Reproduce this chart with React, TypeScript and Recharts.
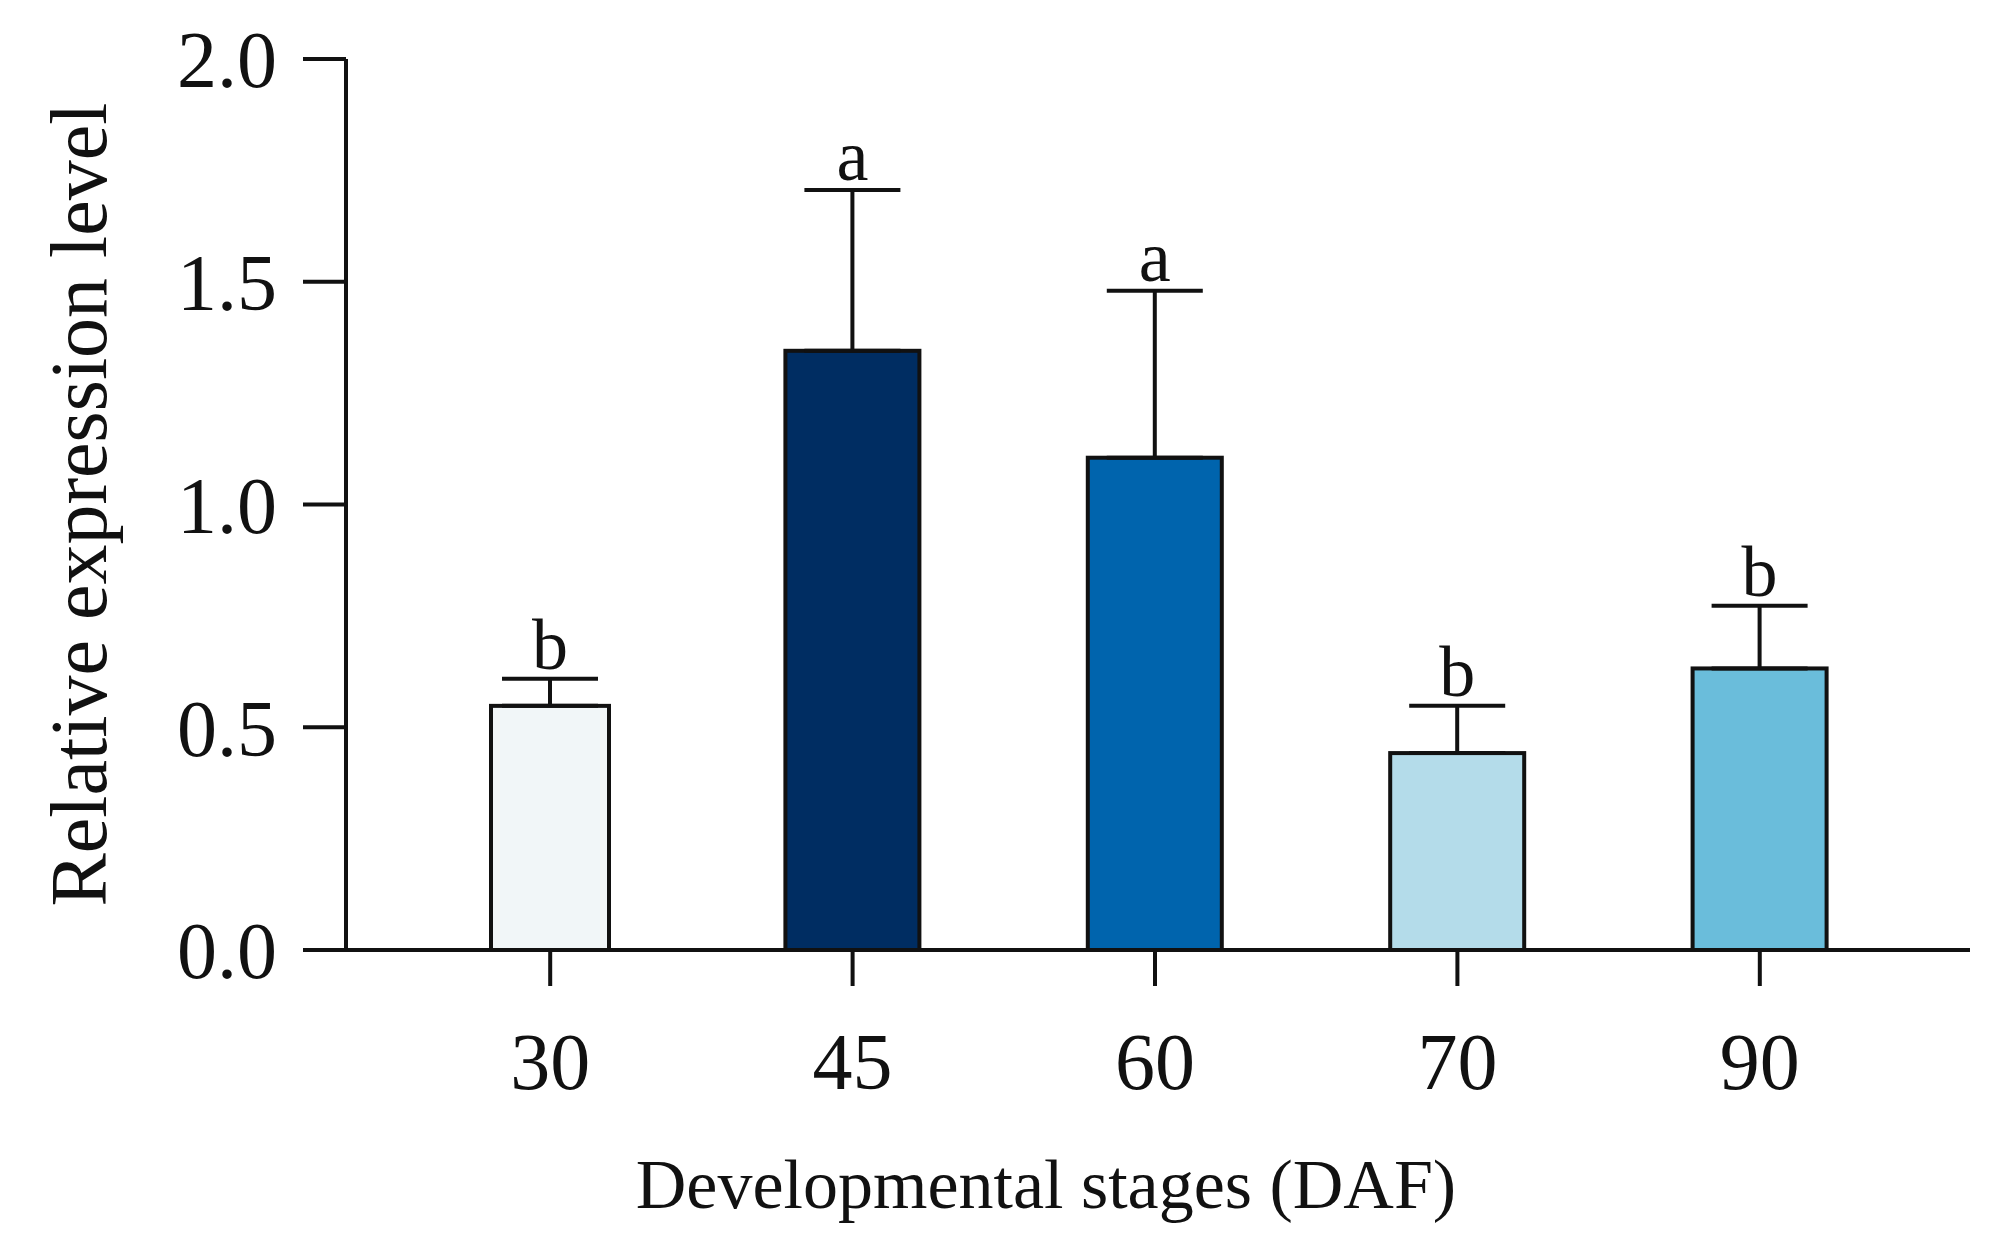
import React from 'react';
import { BarChart, Bar, XAxis, YAxis, ErrorBar, Cell, LabelList, Label } from 'recharts';

const stages = ['30', '45', '60', '70', '90'];
const means = [0.548, 1.345, 1.105, 0.442, 0.632];
const errors = [0.061, 0.361, 0.375, 0.106, 0.141];
const letters = ['b', 'a', 'a', 'b', 'b'];
const colors = ['#f1f6f8', '#002d62', '#0064ad', '#b4dcea', '#6abddb'];
const yTicks = [0, 0.5, 1.0, 1.5, 2.0];

const data = stages.map((s, i) => ({
  stage: s,
  mean: means[i],
  err: [0, errors[i]],
}));

const FONT = '"Liberation Serif", "Times New Roman", serif';

const BarShape = (props: any) => {
  const { x, y, width, height, fill, index } = props;
  // the 30 DAF bar is drawn a little narrower in the original
  const inset = index === 0 ? 8 : 0;
  return (
    <rect
      x={x + inset}
      y={y}
      width={width - inset * 2}
      height={height}
      fill={fill}
      stroke="#111"
      strokeWidth={4}
    />
  );
};

const LetterLabel = (props: any) => {
  const { x, y, width, height, value, index } = props;
  if (value == null || !height) return null;
  const pxPerUnit = height / value;
  const top = y - errors[index] * pxPerUnit;
  return (
    <text
      x={x + width / 2}
      y={top - 10}
      textAnchor="middle"
      fontFamily={FONT}
      fontSize={72}
      fill="#111"
    >
      {letters[index]}
    </text>
  );
};

export default function App() {
  return (
    <div style={{ width: 2000, height: 1230, background: '#fff' }}>
      <BarChart
        width={2000}
        height={1230}
        data={data}
        margin={{ top: 51, right: 38, bottom: 88, left: 0 }}
      >
        <XAxis
          dataKey="stage"
          height={200}
          padding={{ left: 53, right: 59 }}
          axisLine={{ stroke: '#111', strokeWidth: 4 }}
          tickLine={{ stroke: '#111', strokeWidth: 4 }}
          tickSize={36}
          tickMargin={46}
          tick={{ fill: '#111', fontSize: 80, fontFamily: FONT }}
        >
          <Label
            value="Developmental stages (DAF)"
            position="insideBottom"
            offset={-58}
            dx={-112}
            fill="#111"
            fontSize={70}
            fontFamily={FONT}
          />
        </XAxis>
        <YAxis
          width={338}
          domain={[0, 2]}
          ticks={yTicks}
          interval={0}
          tickFormatter={(v: number) => v.toFixed(1)}
          axisLine={{ stroke: '#111', strokeWidth: 4 }}
          tickLine={{ stroke: '#111', strokeWidth: 4 }}
          tickSize={43}
          tickMargin={26}
          tick={{ fill: '#111', fontSize: 80, fontFamily: FONT }}
        >
          <Label
            value="Relative expression level"
            angle={-90}
            position="insideLeft"
            offset={70}
            fill="#111"
            fontSize={80}
            fontFamily={FONT}
            style={{ textAnchor: 'middle' }}
          />
        </YAxis>
        <Bar dataKey="mean" barSize={134} shape={<BarShape />} isAnimationActive={false}>
          {data.map((d, i) => (
            <Cell key={d.stage} fill={colors[i]} />
          ))}
          <ErrorBar dataKey="err" direction="y" width={48} stroke="#111" strokeWidth={4} />
          <LabelList dataKey="mean" content={<LetterLabel />} />
        </Bar>
      </BarChart>
    </div>
  );
}
